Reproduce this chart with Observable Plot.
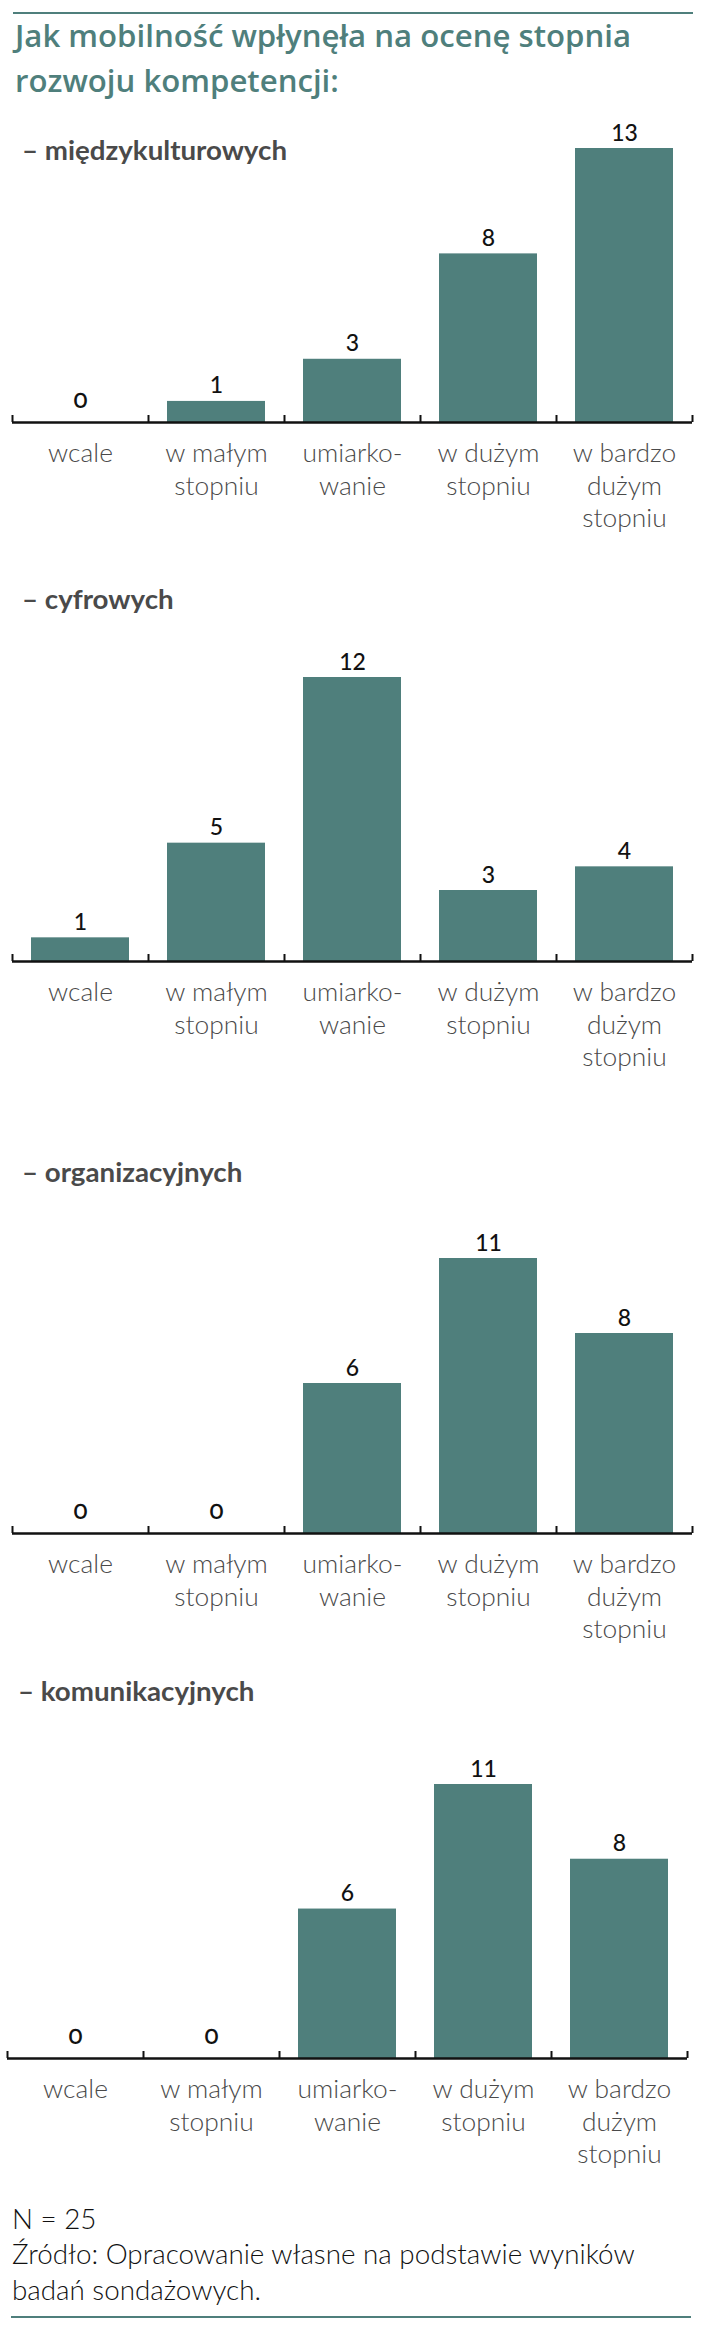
<!DOCTYPE html>
<html>
<head>
<meta charset="utf-8">
<script src="https://cdn.jsdelivr.net/npm/d3@7"></script>
<script src="https://cdn.jsdelivr.net/npm/@observablehq/plot@0.6"></script>
<style>
  html, body { margin: 0; padding: 0; background: #ffffff; }
  #page { position: relative; width: 716px; height: 2332px; overflow: hidden; background: #fff; }
  .abs { position: absolute; white-space: nowrap; margin: 0; transform-origin: 0 0; }
  .hrule { position: absolute; height: 2px; background: #4f7f7c; }
</style>
</head>
<body>
<div id="page"></div>
<script>
// ---------------- data ----------------
const categories = ["wcale", "w małym stopniu", "umiarkowanie", "w dużym stopniu", "w bardzo dużym stopniu"];
const categoryLines = [["wcale"], ["w małym", "stopniu"], ["umiarko-", "wanie"], ["w dużym", "stopniu"], ["w bardzo", "dużym", "stopniu"]];
const seriesNames = ["– międzykulturowych", "– cyfrowych", "– organizacyjnych", "– komunikacyjnych"];
const miedzykulturowych = [0, 1, 3, 8, 13];
const cyfrowych = [1, 5, 12, 3, 4];
const organizacyjnych = [0, 0, 6, 11, 8];
const komunikacyjnych = [0, 0, 6, 11, 8];
const seriesValues = [miedzykulturowych, cyfrowych, organizacyjnych, komunikacyjnych];
const titleLines = ["Jak mobilność wpłynęła na ocenę stopnia", "rozwoju kompetencji:"];
const footerLines = ["N = 25", "Źródło: Opracowanie własne na podstawie wyników", "badań sondażowych."];

// ---------------- style / layout ----------------
const W = 716;
const TEAL = "#4f7f7c";
const BAR = "#4f7f7c";
const page = document.getElementById("page");
const ctx = document.createElement("canvas").getContext("2d");

function measure(text, family, weight, size) {
  ctx.font = `${weight} ${size}px ${family}`;
  return ctx.measureText(text).width;
}
function fitSize(text, family, weight, target) {
  return 100 * target / measure(text, family, weight, 100);
}
function placeText(lines, {baseline, left, family, weight, size, lineHeight, color, scaleX = 1}) {
  ctx.font = `${weight} ${size}px ${family}`;
  const m = ctx.measureText("Hg");
  const a = m.fontBoundingBoxAscent, d = m.fontBoundingBoxDescent;
  const top = baseline - (lineHeight - (a + d)) / 2 - a;
  const div = document.createElement("div");
  div.className = "abs";
  div.style.cssText = `left:${left}px;top:${top}px;font-family:${family};font-weight:${weight};font-size:${size}px;line-height:${lineHeight}px;color:${color};transform:scaleX(${scaleX});`;
  div.innerHTML = lines.map(l => l.replace(/&/g, "&amp;").replace(/</g, "&lt;")).join("<br>");
  page.appendChild(div);
}
function hrule(y, x1, x2) {
  const r = document.createElement("div");
  r.className = "hrule";
  r.style.cssText = `left:${x1}px;width:${x2 - x1}px;top:${y - 1}px;`;
  page.appendChild(r);
}

// fonts
const TITLE_FONT = "'Open Sans', Lato, sans-serif";
const BODY_FONT = "Lato, 'Open Sans', sans-serif";
const titleSize = 30;
const titleScale = 616 / measure(titleLines[0], "'Open Sans'", 600, titleSize);
const subSize = 26;
const subScale = 265 / measure(seriesNames[0], "Lato", 700, subSize);
const catSize = fitSize("w bardzo", "Lato", 300, 104);
const footSize = fitSize(footerLines[1], "Lato", 300, 624);
const valueSize = 23;

// top rule + title
hrule(13, 13, 693);
placeText(titleLines, {baseline: 47, left: 15, family: TITLE_FONT, weight: 600, size: titleSize, lineHeight: 45, color: TEAL, scaleX: titleScale});

// chart positions (pixel layout only)
const layout = [
  {sub: 161, subLeft: 22, axis: 422, top: 148, left: 12, right: 692},
  {sub: 610, subLeft: 22, axis: 961, top: 677, left: 12, right: 692},
  {sub: 1183, subLeft: 22, axis: 1533, top: 1258, left: 12, right: 692},
  {sub: 1702, subLeft: 18, axis: 2058, top: 1784, left: 7, right: 687}
];
const lineOffsets = [39, 72, 104];
const MT = 40, MB = 125;
const padInner = 0.276, padOuter = 0.138;

function chart(values, L) {
  const data = categories.map((c, i) => ({cat: c, value: values[i]}));
  const lines = [];
  categoryLines.forEach((ls, i) => ls.forEach((t, j) => lines.push({cat: categories[i], text: t, j})));
  const max = d3.max(values);
  const innerH = L.axis - L.top;
  const step = (L.right - L.left) / (categories.length - padInner + 2 * padOuter);
  const tickUnits = 7 * max / innerH;
  const tickOpts = {y1: 0, y2: tickUnits, stroke: "#111", strokeWidth: 2};
  return Plot.plot({
    width: W,
    height: MT + innerH + MB,
    marginTop: MT,
    marginBottom: MB,
    marginLeft: L.left,
    marginRight: W - L.right,
    style: {fontFamily: BODY_FONT, background: "transparent", overflow: "visible"},
    x: {type: "band", domain: categories, paddingInner: padInner, paddingOuter: padOuter, axis: null},
    y: {domain: [0, max], axis: null},
    marks: [
      Plot.barY(data, {x: "cat", y: "value", fill: BAR}),
      Plot.ruleY([0], {stroke: "#111", strokeWidth: 2.5}),
      Plot.ruleX(categories, {x: d => d, dx: -step / 2, ...tickOpts}),
      Plot.ruleX(categories.slice(-1), {x: d => d, dx: step / 2, ...tickOpts}),
      Plot.text(data.filter(d => d.value > 0), {x: "cat", y: "value", text: d => String(d.value), dy: -8, lineAnchor: "bottom", fontSize: valueSize, fontWeight: 500, fill: "#111"}),
      Plot.text(data.filter(d => d.value === 0), {x: "cat", y: "value", text: d => String(d.value), dy: -15, lineAnchor: "bottom", fontSize: valueSize + 3, fontWeight: 500, fill: "#111", fontVariant: "oldstyle-nums"}),
      ...lineOffsets.map((off, j) => Plot.text(lines.filter(d => d.j === j), {
        x: "cat", y: 0, text: "text", dy: off, lineAnchor: "bottom",
        fontSize: catSize, fontWeight: 300, fill: "#4a4a4a"
      }))
    ]
  });
}

layout.forEach((L, k) => {
  placeText([seriesNames[k]], {baseline: L.sub, left: L.subLeft, family: BODY_FONT, weight: 700, size: subSize, lineHeight: subSize * 1.2, color: "#4a4a4a", scaleX: subScale});
  const holder = document.createElement("div");
  holder.className = "abs";
  holder.style.left = "0px";
  holder.style.top = (L.top - MT) + "px";
  holder.appendChild(chart(seriesValues[k], L));
  page.appendChild(holder);
});

// footer
placeText(footerLines, {baseline: 2229, left: 12, family: BODY_FONT, weight: 300, size: footSize, lineHeight: 35.5, color: "#111"});
hrule(2317, 11, 691);
</script>
</body>
</html>
